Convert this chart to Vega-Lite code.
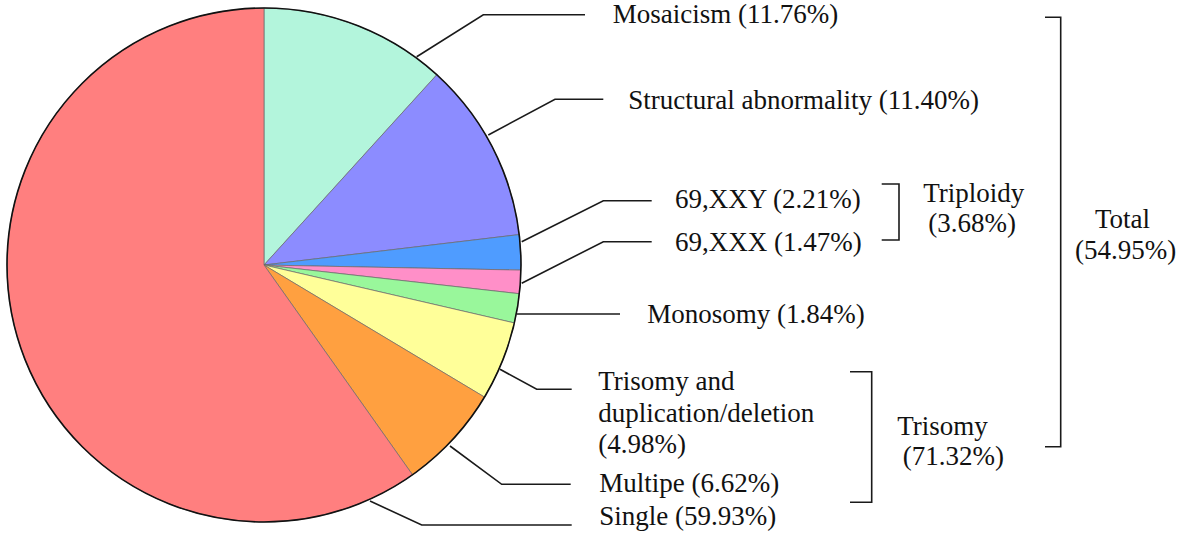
{
  "$schema": "https://vega.github.io/schema/vega-lite/v6.json",
  "width": 1181,
  "height": 546,
  "padding": 0,
  "autosize": {"type": "none"},
  "background": "white",
  "config": {"view": {"stroke": null}},
  "datasets": {
    "slices": [
      {"name": "Mosaicism", "pct": 11.76, "ord": 1},
      {"name": "Structural abnormality", "pct": 11.40, "ord": 2},
      {"name": "69,XXY", "pct": 2.21, "ord": 3},
      {"name": "69,XXX", "pct": 1.47, "ord": 4},
      {"name": "Monosomy", "pct": 1.84, "ord": 5},
      {"name": "Trisomy and duplication/deletion", "pct": 4.98, "ord": 6},
      {"name": "Multipe", "pct": 6.62, "ord": 7},
      {"name": "Single", "pct": 59.93, "ord": 8}
    ],
    "leaders": [
      {"g": "Mosaicism", "i": 0, "x": 416.7, "y": 56.7},
      {"g": "Mosaicism", "i": 1, "x": 483.3, "y": 14.7},
      {"g": "Mosaicism", "i": 2, "x": 585, "y": 14.7},
      {"g": "Structural", "i": 0, "x": 488.3, "y": 135},
      {"g": "Structural", "i": 1, "x": 555, "y": 99.3},
      {"g": "Structural", "i": 2, "x": 603.3, "y": 99.3},
      {"g": "XXY", "i": 0, "x": 521.7, "y": 241.7},
      {"g": "XXY", "i": 1, "x": 603.3, "y": 200.7},
      {"g": "XXY", "i": 2, "x": 651.7, "y": 200.7},
      {"g": "XXX", "i": 0, "x": 521.7, "y": 283.3},
      {"g": "XXX", "i": 1, "x": 603.3, "y": 241.7},
      {"g": "XXX", "i": 2, "x": 651.7, "y": 241.7},
      {"g": "Monosomy", "i": 0, "x": 516.7, "y": 314},
      {"g": "Monosomy", "i": 1, "x": 620, "y": 314},
      {"g": "TriDup", "i": 0, "x": 500, "y": 369.3},
      {"g": "TriDup", "i": 1, "x": 536.7, "y": 389.3},
      {"g": "TriDup", "i": 2, "x": 571.7, "y": 389.3},
      {"g": "Multipe", "i": 0, "x": 450, "y": 446},
      {"g": "Multipe", "i": 1, "x": 501.7, "y": 484.3},
      {"g": "Multipe", "i": 2, "x": 570.7, "y": 484.3},
      {"g": "Single", "i": 0, "x": 370, "y": 501},
      {"g": "Single", "i": 1, "x": 421.7, "y": 525},
      {"g": "Single", "i": 2, "x": 571.7, "y": 525},
      {"g": "BrTriploidy", "i": 0, "x": 881.7, "y": 184},
      {"g": "BrTriploidy", "i": 1, "x": 899, "y": 184},
      {"g": "BrTriploidy", "i": 2, "x": 899, "y": 240},
      {"g": "BrTriploidy", "i": 3, "x": 881.7, "y": 240},
      {"g": "BrTrisomy", "i": 0, "x": 850, "y": 371.7},
      {"g": "BrTrisomy", "i": 1, "x": 871.7, "y": 371.7},
      {"g": "BrTrisomy", "i": 2, "x": 871.7, "y": 502.3},
      {"g": "BrTrisomy", "i": 3, "x": 850, "y": 502.3},
      {"g": "BrTotal", "i": 0, "x": 1045, "y": 17.3},
      {"g": "BrTotal", "i": 1, "x": 1060.7, "y": 17.3},
      {"g": "BrTotal", "i": 2, "x": 1060.7, "y": 446.7},
      {"g": "BrTotal", "i": 3, "x": 1045, "y": 446.7}
    ],
    "labels": [
      {"t": "Mosaicism (11.76%)", "x": 612.7, "y": 22.7},
      {"t": "Structural abnormality (11.40%)", "x": 628.3, "y": 109.3},
      {"t": "69,XXY (2.21%)", "x": 675, "y": 208.3},
      {"t": "69,XXX (1.47%)", "x": 675, "y": 250.5},
      {"t": "Monosomy (1.84%)", "x": 647.3, "y": 323.3},
      {"t": "Trisomy and", "x": 598.3, "y": 390},
      {"t": "duplication/deletion", "x": 598.3, "y": 421.7},
      {"t": "(4.98%)", "x": 598.3, "y": 453},
      {"t": "Multipe (6.62%)", "x": 599.3, "y": 491.7},
      {"t": "Single (59.93%)", "x": 599.3, "y": 525},
      {"t": "Triploidy", "x": 923.3, "y": 201.7},
      {"t": "(3.68%)", "x": 928.3, "y": 231.7},
      {"t": "Trisomy", "x": 897.3, "y": 435},
      {"t": "(71.32%)", "x": 902.7, "y": 465},
      {"t": "Total", "x": 1095, "y": 228.3},
      {"t": "(54.95%)", "x": 1075, "y": 258.5}
    ]
  },
  "layer": [
    {
      "data": {"name": "slices"},
      "transform": [
        {"stack": "pct", "groupby": [], "sort": [{"field": "ord", "order": "ascending"}], "as": ["p0", "p1"]}
      ],
      "mark": {"type": "arc", "outerRadius": 257, "stroke": "#6a6a6a", "strokeWidth": 0.7},
      "encoding": {
        "x": {"datum": 264, "type": "quantitative", "scale": {"domain": [0, 1181], "nice": false, "zero": false}, "axis": null},
        "y": {"datum": 265, "type": "quantitative", "scale": {"domain": [0, 546], "nice": false, "zero": false, "reverse": true}, "axis": null},
        "theta": {"field": "p0", "type": "quantitative", "scale": {"domain": [0, 100.21], "nice": false}},
        "theta2": {"field": "p1"},
        "color": {
          "field": "name",
          "type": "nominal",
          "legend": null,
          "scale": {
            "domain": ["Mosaicism", "Structural abnormality", "69,XXY", "69,XXX", "Monosomy", "Trisomy and duplication/deletion", "Multipe", "Single"],
            "range": ["#b3f5dc", "#8c8cff", "#4f9cff", "#ff8fc8", "#99f79b", "#ffff99", "#ffa040", "#ff7f7f"]
          }
        }
      }
    },
    {
      "data": {"values": [{"whole": 100.21}]},
      "mark": {"type": "arc", "outerRadius": 257, "fill": null, "fillOpacity": 0, "stroke": "#111111", "strokeWidth": 1.6},
      "encoding": {
        "x": {"datum": 264, "type": "quantitative"},
        "y": {"datum": 265, "type": "quantitative"},
        "theta": {"field": "whole", "type": "quantitative", "stack": null, "scale": {"domain": [0, 100.21], "nice": false}}
      }
    },
    {
      "data": {"name": "leaders"},
      "mark": {"type": "line", "stroke": "#1a1a1a", "strokeWidth": 1.6},
      "encoding": {
        "x": {"field": "x", "type": "quantitative"},
        "y": {"field": "y", "type": "quantitative"},
        "detail": {"field": "g", "type": "nominal"},
        "order": {"field": "i", "type": "quantitative"}
      }
    },
    {
      "data": {"name": "labels"},
      "mark": {"type": "text", "align": "left", "baseline": "alphabetic", "font": "Liberation Serif", "fontSize": 27, "fill": "#111111"},
      "encoding": {
        "x": {"field": "x", "type": "quantitative"},
        "y": {"field": "y", "type": "quantitative"},
        "text": {"field": "t", "type": "nominal"}
      }
    }
  ]
}
